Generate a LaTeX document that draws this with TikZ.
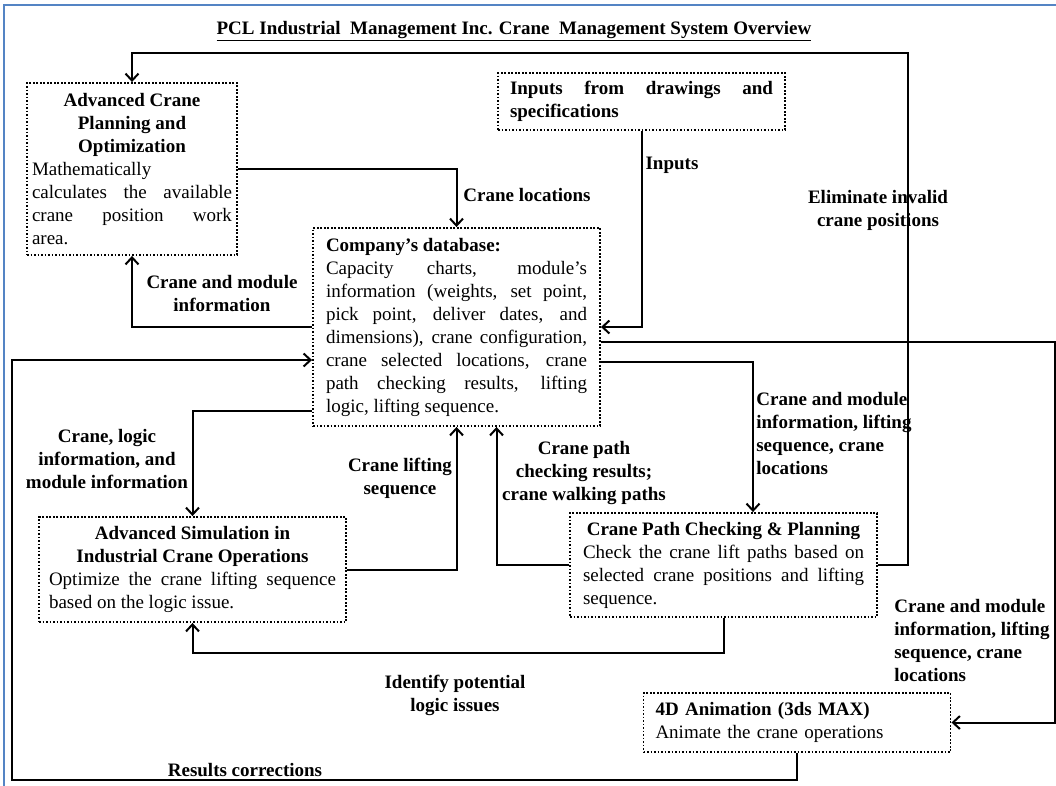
\documentclass[tikz,border=0pt]{standalone}
\usepackage{fontspec}
\setmainfont{Liberation Serif}
\usetikzlibrary{arrows.meta}

\begin{document}
\begin{tikzpicture}[x=1pt,y=-1pt,line width=2pt,>={Straight Barb[length=7pt,width=13pt]}]

	\tikzstyle{every node}=[font=\fontsize{19}{23}\selectfont]
	\tikzstyle{box}=[draw,dash pattern=on 1.9pt off 1.6pt,line width=1.9pt,inner ysep=0pt,align=justify]
	\tikzstyle{lbl}=[font=\fontsize{19}{23}\selectfont\bfseries,align=center]

	\useasboundingbox (0,0) rectangle (1056,785);
	\draw[color={rgb,255:red,84;green,132;blue,196},line width=2.5pt] (4,800) -- (4,5) -- (1070,5);

	\node[font=\fontsize{19}{23}\selectfont\bfseries] (title) at (514,31) {\underline{PCL Industrial\ \ Management Inc. Crane\ \ Management System Overview}};

	\node[box,text width=200pt,inner xsep=5pt,minimum height=172pt] (plan) at (132,169)
		{{\centering\bfseries Advanced Crane\\ Planning and\\ Optimization\par}Mathematically\\ calculates the available\linebreak crane position work\linebreak area.};
	\node[box,text width=263pt,inner xsep=12pt,minimum height=57pt] (inp) at (641.5,101.5)
		{\bfseries Inputs from drawings and\linebreak specifications};
	\node[box,text width=261pt,inner xsep=13pt,minimum height=198pt] (db) at (456.5,327)
		{\textbf{Company’s database:}\\ Capacity charts, module’s\linebreak information (weights, set point,\linebreak pick point, deliver dates, and\linebreak dimensions), crane configuration,\linebreak crane selected locations, crane\linebreak path checking results, lifting\linebreak logic, lifting sequence.};
	\node[box,text width=287pt,inner xsep=10pt,minimum height=105pt] (sim) at (192.5,569.5)
		{{\centering\bfseries Advanced Simulation in\\ Industrial Crane Operations\par}Optimize the crane lifting sequence\linebreak based on the logic issue.};
	\node[box,text width=281pt,inner xsep=13pt,minimum height=104pt] (path) at (723.5,565)
		{{\centering\bfseries Crane Path Checking \& Planning\par}Check the crane lift paths based on\linebreak selected crane positions and lifting\linebreak sequence.};
	\node[box,text width=283pt,inner xsep=12pt,minimum height=59pt,align=left] (anim) at (797,722.5)
		{\textbf{4D Animation (3ds MAX)}\\ Animate the crane operations};

	\node[lbl] (locLbl) at (527,195) {Crane locations};
	\node[lbl] (inLbl) at (672,165) {Inputs};
	\node[lbl] (elimLbl) at (878,210) {Eliminate invalid\\ crane positions};
	\node[lbl] (cmLbl) at (222,293) {Crane and module\\ information};
	\node[lbl] (clmLbl) at (107,459) {Crane, logic\\ information, and\\ module information};
	\node[lbl] (liftLbl) at (400,478) {Crane lifting\\ sequence};
	\node[lbl] (pathLbl) at (584,473) {Crane path\\ checking results;\\ crane walking paths};
	\node[lbl,align=left,anchor=west] (cmLiftLbl) at (752,433) {Crane and module\\ information, lifting\\ sequence, crane\\ locations};
	\node[lbl,align=left,anchor=west] (cmAnimLbl) at (890,640) {Crane and module\\ information, lifting\\ sequence, crane\\ locations};
	\node[lbl] (idLbl) at (455,695) {Identify potential\\ logic issues};
	\node[lbl] (resLbl) at (245,770) {Results corrections};

	\coordinate (corr) at (12,780);

	\draw[->] (plan.east) -| (db.north);
	\draw[->] (inp.south) |- (db.east);
	\draw[->] (db.west) -| (plan.south);
	\draw[->] ([yshift=16pt]db.south west) -| (sim.north);
	\draw[->] (sim.east) -| (db.south);
	\draw[->] (path.west) -| ([xshift=40pt]db.south);
	\draw[->] ([yshift=-35pt]db.east) -| ([xshift=29.5pt]path.north);
	\draw[->] ([yshift=-15pt]db.east) -| ([xshift=103.5pt]anim.east) -- (anim.east);
	\draw[->] (path.east) -- ++(30,0) |- ([yshift=29pt]plan.north) -- (plan.north);
	\draw[->] (path.south) |- ([yshift=-30pt]sim.south) -- (sim.south);
	\draw[->] (anim.south) |- (corr) |- ([yshift=-33pt]db.west);

\end{tikzpicture}
\end{document}
